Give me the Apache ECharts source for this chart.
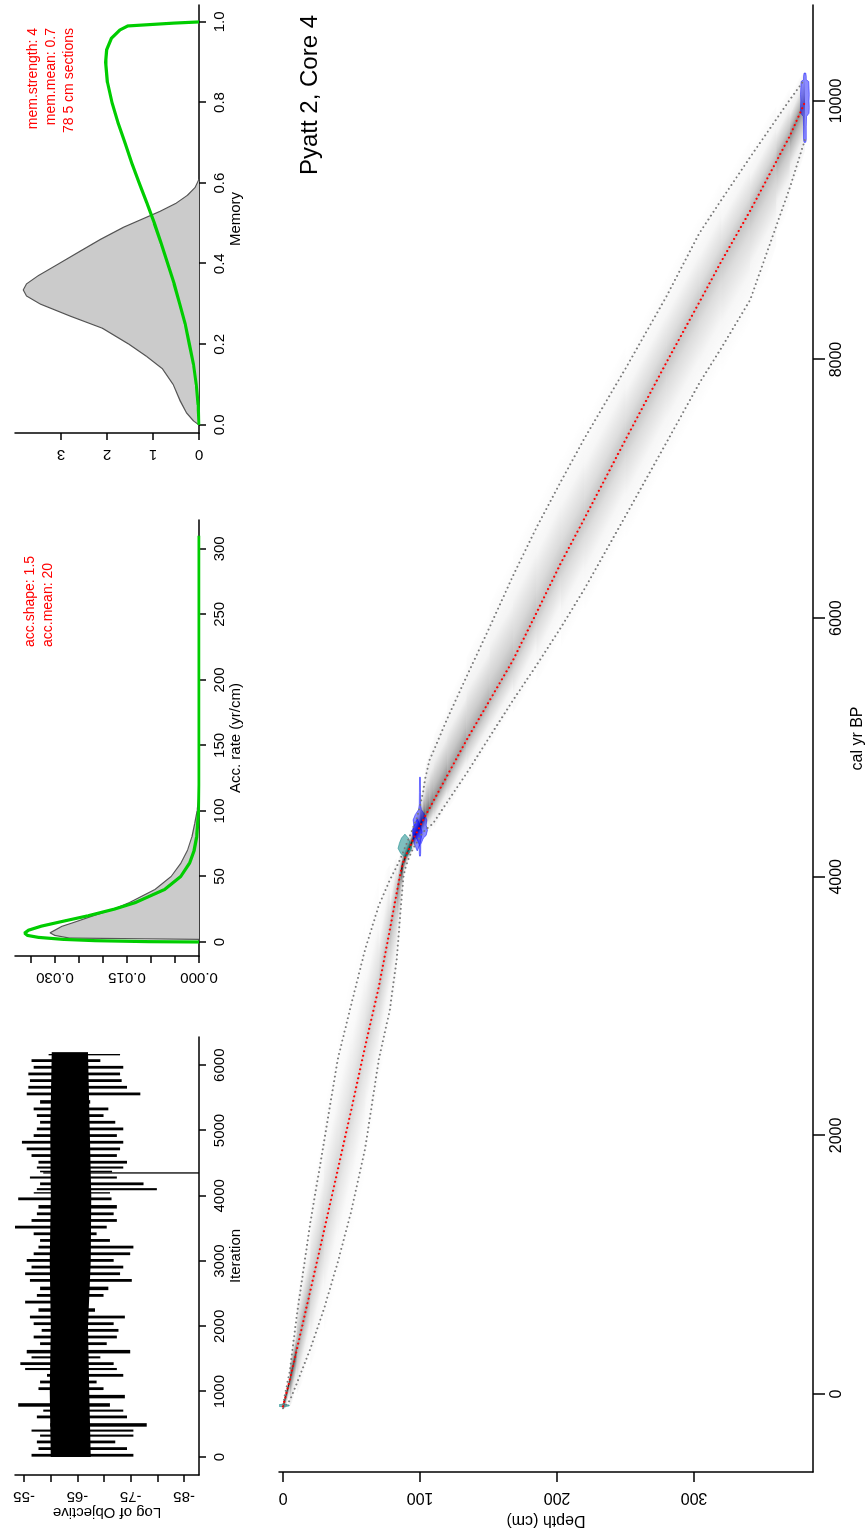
<!DOCTYPE html>
<html>
<head>
<meta charset="utf-8">
<script src="https://cdn.jsdelivr.net/npm/echarts@6/dist/echarts.min.js"></script>
<style>
html, body { margin: 0; padding: 0; background: #fff; overflow: hidden; width: 865px; height: 1532px; }
/* the figure is laid out landscape and turned a quarter turn */
#chart { position: absolute; left: 0; top: 0; width: 1532px; height: 865px;
  transform-origin: 0 0; transform: translateY(1532px) rotate(-90deg); }
</style>
</head>
<body>
<div id="chart"></div>
<script>
// ---------- MCMC run: log of objective ----------
const traceIter = [5,107,209,311,388,464,592,694,770,898,1025,1127,1229,1331,1408,1510,1586,1714,1816,1918,2020,2122,2224,2351,2453,2555,2683,2785,2887,2989,3091,3193,3295,3397,3499,3601,3703,3805,3932,4034,4085,4162,4264,4340,4360,4417,4493,4595,4697,4799,4901,5003,5105,5207,5309,5411,5539,5641,5743,5845,5947,6049,6151];
const traceHigh = [-56.4,-57.7,-57.4,-58.0,-56.4,-59.9,-57.4,-58.6,-53.9,-60.2,-57.7,-58.0,-59.3,-55.2,-54.3,-56.4,-55.5,-58.0,-56.8,-58.3,-56.8,-56.1,-57.7,-55.2,-57.4,-58.0,-56.1,-55.2,-56.4,-55.5,-56.8,-57.7,-58.0,-56.8,-53.3,-56.4,-57.4,-57.7,-53.9,-56.8,-57.4,-58.0,-56.1,-58.6,-58.0,-57.4,-57.7,-56.4,-55.5,-54.6,-56.8,-57.4,-58.0,-57.4,-56.8,-58.0,-55.5,-55.8,-56.1,-55.8,-56.8,-56.4,-59.6];
const traceLow = [-75.5,-74.3,-72.1,-75.5,-75.5,-78.0,-74.3,-73.6,-71.1,-73.9,-69.9,-68.6,-73.6,-72.4,-71.8,-69.3,-74.9,-70.5,-72.4,-72.7,-71.8,-73.9,-68.3,-66.8,-69.9,-70.8,-75.2,-73.0,-73.6,-71.8,-74.9,-75.5,-71.1,-68.6,-70.5,-72.4,-71.8,-72.4,-71.4,-71.1,-79.9,-77.4,-72.4,-87.8,-71.5,-73.6,-74.3,-72.4,-73.0,-73.6,-72.4,-73.6,-72.1,-69.9,-70.8,-67.4,-76.8,-74.3,-73.3,-73.0,-73.6,-69.3,-73.0];
const coreIter = [0, 1000, 2000, 3000, 4000, 5000, 6200];
const coreHigh = [-60.0, -59.8, -60.0, -59.8, -60.0, -59.9, -60.2];
const coreLow  = [-67.5, -67.2, -67.0, -67.5, -67.6, -67.3, -67.0];
const iterTicks = [0, 1000, 2000, 3000, 4000, 5000, 6000];
const objTicks = [-85, -80, -75, -70, -65, -60, -55];
const objLabels = [-85, -75, -65, -55];

// ---------- accumulation rate ----------
const accPostX = [0, 2, 3, 5, 7, 9, 12, 15, 20, 25, 30, 40, 50, 60, 70, 80, 90, 100, 110, 112];
const accPostY = [0, 0, 0.027, 0.030, 0.031, 0.030, 0.0285, 0.026, 0.022, 0.0178, 0.0145, 0.0092, 0.0058, 0.0038, 0.0024, 0.0015, 0.0009, 0.0004, 0.0001, 0];
const accPriorX = [0, 0.25, 1, 2, 3.5, 5, 6.7, 9, 12, 15, 20, 25, 30, 40, 50, 60, 70, 80, 90, 100, 120, 150, 310];
const accPriorY = [0, 0.0105, 0.0216, 0.0283, 0.0334, 0.0357, 0.0363, 0.0355, 0.0329, 0.0293, 0.0231, 0.0177, 0.0133, 0.0072, 0.0038, 0.0020, 0.0010, 0.0005, 0.0003, 0.0001, 0, 0, 0];
const accTicks = [0, 50, 100, 150, 200, 250, 300];
const accDensTicks = [0, 0.005, 0.010, 0.015, 0.020, 0.025, 0.030, 0.035];
const accDensLabels = [0, 0.015, 0.030];

// ---------- memory ----------
const memPostX = [0, 0.01, 0.03, 0.06, 0.10, 0.14, 0.17, 0.20, 0.24, 0.27, 0.30, 0.32, 0.335, 0.35, 0.37, 0.40, 0.43, 0.46, 0.49, 0.51, 0.53, 0.55, 0.57, 0.59, 0.61];
const memPostY = [0, 0.12, 0.27, 0.41, 0.56, 0.80, 1.14, 1.52, 2.10, 2.80, 3.45, 3.75, 3.82, 3.75, 3.50, 3.05, 2.60, 2.15, 1.65, 1.25, 0.85, 0.50, 0.25, 0.08, 0];
const memPriorX = [0, 0.05, 0.1, 0.15, 0.2, 0.25, 0.3, 0.35, 0.4, 0.45, 0.5, 0.55, 0.6, 0.65, 0.7, 0.75, 0.8, 0.85, 0.9, 0.93, 0.96, 0.98, 0.99, 0.997, 1.0];
const memPriorY = [0, 0.02, 0.06, 0.12, 0.21, 0.30, 0.42, 0.54, 0.68, 0.82, 0.97, 1.13, 1.30, 1.46, 1.61, 1.76, 1.89, 1.99, 2.03, 2.01, 1.90, 1.72, 1.55, 0.56, 0];
const memTicks = [0, 0.2, 0.4, 0.6, 0.8, 1.0];
const memDensTicks = [0, 1, 2, 3];

// ---------- age-depth model ----------
const modelDepth = [0, 5, 10, 20, 30, 40, 50, 60, 70, 78, 83, 86, 88, 90, 92, 95, 98, 100, 102, 104, 107, 110, 120, 134, 151, 168, 185, 203, 220, 250, 280, 304, 320, 341, 360, 370, 381];
const ageMean  = [-95, 110, 340, 800, 1265, 1735, 2205, 2690, 3150, 3590, 3875, 4040, 4120, 4170, 4215, 4290, 4350, 4390, 4430, 4475, 4530, 4590, 4785, 5058, 5367, 5677, 6040, 6430, 6770, 7380, 7980, 8445, 8760, 9150, 9530, 9730, 9990];
const ageYoung = [-110, -50, 80, 350, 660, 1020, 1420, 1900, 2590, 2970, 3360, 3760, 4010, 4090, 4150, 4220, 4270, 4310, 4340, 4365, 4388, 4420, 4580, 4800, 5085, 5367, 5635, 5930, 6225, 6790, 7360, 7819, 8090, 8461, 9030, 9330, 9700];
const ageOld   = [-80, 180, 600, 1330, 1950, 2590, 3020, 3440, 3780, 3975, 4080, 4145, 4200, 4250, 4300, 4380, 4460, 4550, 4640, 4770, 4903, 4975, 5225, 5548, 5934, 6330, 6700, 7060, 7390, 7930, 8490, 8979, 9235, 9565, 9857, 10010, 10170];
const calTicks = [0, 2000, 4000, 6000, 8000, 10000];
const depthTicks = [0, 100, 200, 300];

// ---------- dated levels ----------
const dateDepth = [0, 89, 98, 100, 381];
const dateKind = ['cal', 'cal', 'c14', 'c14', 'c14'];
const dateAges = [
  [-100, -92, -85, -78],
  [4150, 4180, 4220, 4260, 4300, 4330],
  [4200, 4250, 4300, 4350, 4400, 4450],
  [4160, 4180, 4250, 4300, 4320, 4360, 4400, 4440, 4480, 4520, 4560, 4650, 4770],
  [9680, 9700, 9800, 9880, 9905, 9950, 10000, 10050, 10100, 10150, 10165, 10190, 10216]
];
const dateHalf = [
  [0, 4.5, 4.5, 0],
  [0, 3, 5, 4, 2.5, 0],
  [0, 2, 3, 3.5, 2, 0],
  [0.3, 0.5, 0.6, 2.5, 4.5, 5.5, 4.5, 5, 3.5, 1, 0.5, 0.4, 0.3],
  [0.6, 1.0, 1.0, 1.2, 3.0, 3.2, 3.0, 3.2, 3.0, 2.8, 1.0, 1.0, 0.6]
];

const FONT = "'Liberation Sans', Arial, Helvetica, sans-serif";
const BLACK = '#000';

function xAx(grid, min, max, ticks, labels, fontSize, margin, tickLen, name, nameGap, fmt) {
  return {
    gridIndex: grid, type: 'value', min: min, max: max, position: 'bottom',
    axisLine: { show: true, onZero: false, lineStyle: { color: BLACK, width: 1.5 } },
    axisTick: { show: true, length: tickLen, customValues: ticks, lineStyle: { color: BLACK, width: 1.5 } },
    axisLabel: { customValues: labels, fontSize: fontSize, margin: margin, color: BLACK, fontFamily: FONT,
      formatter: fmt || (v => String(v)) },
    splitLine: { show: false },
    name: name, nameLocation: 'middle', nameGap: nameGap,
    nameTextStyle: { fontSize: fontSize, color: BLACK, fontFamily: FONT }
  };
}
function yAx(grid, min, max, ticks, labels, fontSize, margin, tickLen, name, nameGap, fmt, inverse) {
  return {
    gridIndex: grid, type: 'value', min: min, max: max, inverse: !!inverse, position: 'left',
    axisLine: { show: true, onZero: false, lineStyle: { color: BLACK, width: 1.5 } },
    axisTick: { show: true, length: tickLen, customValues: ticks, lineStyle: { color: BLACK, width: 1.5 } },
    axisLabel: { customValues: labels, rotate: 90, fontSize: fontSize, margin: margin, color: BLACK, fontFamily: FONT,
      formatter: fmt || (v => String(v)) },
    splitLine: { show: false },
    name: name || '', nameLocation: 'middle', nameGap: nameGap || 30,
    nameTextStyle: { fontSize: fontSize, color: BLACK, fontFamily: FONT }
  };
}

const pairs = (xs, ys) => xs.map((x, i) => [x, ys[i]]);

// trace: one stroke per sampled stretch of iterations, plus the dense core
function traceItem(params, api) {
  const i = api.value(2);
  const t0 = traceIter[i];
  const t1 = i + 1 < traceIter.length ? traceIter[i + 1] : traceIter[i] + 50;
  const a = api.coord([t0, traceHigh[i]]);
  const b = api.coord([t1, traceLow[i]]);
  const w = Math.max(1.3, (b[0] - a[0]) * 0.42);
  return { type: 'rect', shape: { x: a[0], y: a[1], width: w, height: b[1] - a[1] }, style: { fill: '#000' } };
}
function coreItem(params, api) {
  const pts = [];
  for (let j = 0; j < coreIter.length; j++) pts.push(api.coord([coreIter[j], coreHigh[j]]));
  for (let j = coreIter.length - 1; j >= 0; j--) pts.push(api.coord([coreIter[j], coreLow[j]]));
  return { type: 'polygon', shape: { points: pts }, style: { fill: '#000' } };
}

// grey cloud of the age-depth model, shaded across the band; darker where the age range is narrow
function cloudItem(params, api) {
  const i = api.value(2);
  const ext = 1.3;
  const lo = k => ageMean[k] - (ageMean[k] - ageYoung[k]) * ext;
  const hi = k => ageMean[k] + (ageOld[k] - ageMean[k]) * ext;
  const d0 = modelDepth[i], d1 = modelDepth[i + 1];
  const pts = [api.coord([lo(i), d0]), api.coord([hi(i), d0]), api.coord([hi(i + 1), d1]), api.coord([lo(i + 1), d1])];
  const p0 = api.coord([ageMean[i], d0]);
  const p1 = api.coord([ageMean[i + 1], d1]);
  const dx = p1[0] - p0[0], dy = p1[1] - p0[1];
  const L = Math.hypot(dx, dy) || 1;
  const nx = -dy / L, ny = dx / L;
  const M = [(p0[0] + p1[0]) / 2, (p0[1] + p1[1]) / 2];
  const proj = q => (q[0] - M[0]) * nx + (q[1] - M[1]) * ny;
  const sLo = (proj(pts[0]) + proj(pts[3])) / 2;
  const sHi = (proj(pts[1]) + proj(pts[2])) / 2;
  const width = ((ageOld[i] - ageYoung[i]) + (ageOld[i + 1] - ageYoung[i + 1])) / 2;
  const a = Math.min(0.93, 260 / Math.max(width, 1));
  const t = Math.min(0.98, Math.max(0.02, (0 - sLo) / (sHi - sLo || 1)));
  const c = al => 'rgba(0,0,0,' + al.toFixed(3) + ')';
  const grad = new echarts.graphic.LinearGradient(
    M[0] + nx * sLo, M[1] + ny * sLo, M[0] + nx * sHi, M[1] + ny * sHi, [
    { offset: 0, color: c(0) },
    { offset: t * 0.45, color: c(a * 0.15) },
    { offset: t * 0.8, color: c(a * 0.6) },
    { offset: t, color: c(a) },
    { offset: t + (1 - t) * 0.2, color: c(a * 0.6) },
    { offset: t + (1 - t) * 0.55, color: c(a * 0.15) },
    { offset: 1, color: c(0) }
  ], true);
  return { type: 'polygon', shape: { points: pts }, style: { fill: grad } };
}

function dateItem(params, api) {
  const k = api.value(2);
  const ages = dateAges[k], half = dateHalf[k], d = dateDepth[k];
  const pts = [];
  for (let j = 0; j < ages.length; j++) pts.push(api.coord([ages[j], d - half[j]]));
  for (let j = ages.length - 1; j >= 0; j--) pts.push(api.coord([ages[j], d + half[j]]));
  const col = dateKind[k] === 'c14' ? 'rgba(0,0,255,0.45)' : 'rgba(0,128,128,0.5)';
  return { type: 'polygon', shape: { points: pts }, style: { fill: col, stroke: col, lineWidth: 1 } };
}

const dotted = (color, w) => ({ color: color, width: w, type: [0.01, 4.6], cap: 'round' });

const option = {
  animation: false,
  backgroundColor: '#fff',
  grid: [
    { left: 60, top: 279, width: 1467, height: 534, outerBoundsMode: 'none' },
    { left: 57, top: 15, width: 438, height: 184, outerBoundsMode: 'none' },
    { left: 576, top: 15, width: 436, height: 184, outerBoundsMode: 'none' },
    { left: 1099, top: 15, width: 428, height: 184, outerBoundsMode: 'none' }
  ],
  xAxis: [
    xAx(0, -603, 10742, calTicks, calTicks, 16, 16, 12, 'cal yr BP', 34),
    xAx(1, -276, 6432, iterTicks, iterTicks, 15, 13, 7, 'Iteration', 27),
    xAx(2, -10.7, 322, accTicks, accTicks, 15, 13, 7, 'Acc. rate (yr/cm)', 27),
    xAx(3, -0.02, 1.042, memTicks, memTicks, 15, 13, 7, 'Memory', 27, v => v.toFixed(1))
  ],
  yAxis: [
    yAx(0, -2.9, 386.9, depthTicks, depthTicks, 16, 17, 10, 'Depth (cm)', 34, null, true),
    yAx(1, -87.8, -53.3, objTicks, objLabels, 15, 14, 7, 'Log of Objective', 30),
    yAx(2, 0, 0.0383, accDensTicks, accDensLabels, 15, 14, 7, '', 30, v => v.toFixed(3)),
    yAx(3, 0, 4.0, memDensTicks, memDensTicks, 15, 14, 7, '', 30)
  ],
  series: [
    { type: 'custom', xAxisIndex: 1, yAxisIndex: 1, renderItem: coreItem, data: [[coreIter[0], coreHigh[0], 0]], clip: true, silent: true },
    { type: 'custom', xAxisIndex: 1, yAxisIndex: 1, renderItem: traceItem,
      data: traceIter.map((t, i) => [t, traceHigh[i], i]), clip: true, silent: true },

    { type: 'line', xAxisIndex: 2, yAxisIndex: 2, data: pairs(accPostX, accPostY), symbol: 'none',
      lineStyle: { color: '#555', width: 1.2 }, areaStyle: { color: '#cbcbcb', opacity: 1 }, silent: true },
    { type: 'line', xAxisIndex: 2, yAxisIndex: 2, data: pairs(accPriorX, accPriorY), symbol: 'none',
      lineStyle: { color: '#00cd00', width: 3.2 }, silent: true },

    { type: 'line', xAxisIndex: 3, yAxisIndex: 3, data: pairs(memPostX, memPostY), symbol: 'none',
      lineStyle: { color: '#555', width: 1.2 }, areaStyle: { color: '#cbcbcb', opacity: 1 }, silent: true },
    { type: 'line', xAxisIndex: 3, yAxisIndex: 3, data: pairs(memPriorX, memPriorY), symbol: 'none',
      lineStyle: { color: '#00cd00', width: 3.2 }, silent: true },

    { type: 'custom', xAxisIndex: 0, yAxisIndex: 0, renderItem: cloudItem,
      data: modelDepth.slice(0, -1).map((d, i) => [ageMean[i], d, i]), clip: true, silent: true },
    { type: 'line', xAxisIndex: 0, yAxisIndex: 0, data: pairs(ageYoung, modelDepth), symbol: 'none',
      lineStyle: dotted('#7a7a7a', 2), silent: true },
    { type: 'line', xAxisIndex: 0, yAxisIndex: 0, data: pairs(ageOld, modelDepth), symbol: 'none',
      lineStyle: dotted('#7a7a7a', 2), silent: true },
    { type: 'custom', xAxisIndex: 0, yAxisIndex: 0, renderItem: dateItem,
      data: dateDepth.map((d, k) => [dateAges[k][0], d, k]), clip: true, silent: true },
    { type: 'line', xAxisIndex: 0, yAxisIndex: 0, data: pairs(ageMean, modelDepth), symbol: 'none',
      lineStyle: dotted('#ff0000', 2.2), silent: true }
  ],
  graphic: [
    { type: 'text', x: 1517, y: 310, style: { text: 'Pyatt 2, Core 4', font: '24px ' + FONT, fill: '#000',
      align: 'right', verticalAlign: 'middle', textAlign: 'right', textVerticalAlign: 'middle' } },
    { type: 'text', x: 885, y: 30, style: { text: 'acc.shape: 1.5', font: '14px ' + FONT, fill: '#ff0000',
      align: 'left', verticalAlign: 'middle', textAlign: 'left', textVerticalAlign: 'middle' } },
    { type: 'text', x: 885, y: 48, style: { text: 'acc.mean: 20', font: '14px ' + FONT, fill: '#ff0000',
      align: 'left', verticalAlign: 'middle', textAlign: 'left', textVerticalAlign: 'middle' } },
    { type: 'text', x: 1504, y: 33, style: { text: 'mem.strength: 4', font: '14px ' + FONT, fill: '#ff0000',
      align: 'right', verticalAlign: 'middle', textAlign: 'right', textVerticalAlign: 'middle' } },
    { type: 'text', x: 1504, y: 51, style: { text: 'mem.mean: 0.7', font: '14px ' + FONT, fill: '#ff0000',
      align: 'right', verticalAlign: 'middle', textAlign: 'right', textVerticalAlign: 'middle' } },
    { type: 'text', x: 1504, y: 69, style: { text: '78 5 cm sections', font: '14px ' + FONT, fill: '#ff0000',
      align: 'right', verticalAlign: 'middle', textAlign: 'right', textVerticalAlign: 'middle' } }
  ]
};

const chart = echarts.init(document.getElementById('chart'), null, { renderer: 'canvas', width: 1532, height: 865 });
chart.setOption(option);
</script>
</body>
</html>
